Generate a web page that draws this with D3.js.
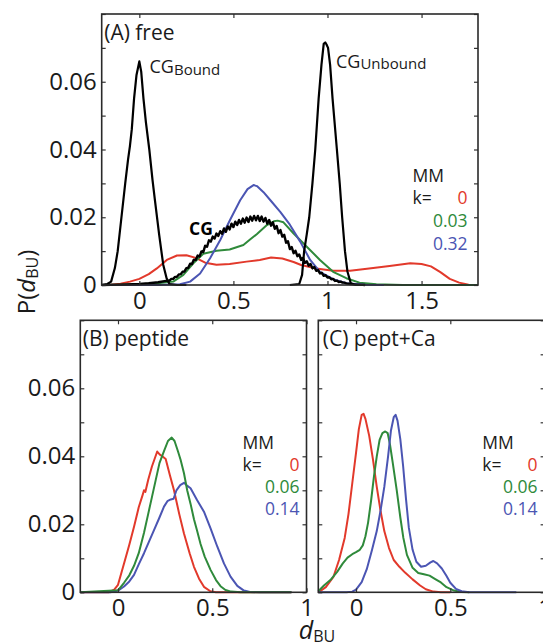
<!DOCTYPE html>
<html><head><meta charset="utf-8">
<script src="https://cdn.jsdelivr.net/npm/d3@7"></script>
<style>
body{margin:0;background:#fff}
svg{display:block}
text{font-family:"Open Sans",sans-serif;fill:#1a1a1a}
</style>
</head><body>
<svg id="chart" width="543" height="643"></svg>
<script>
// ---------- DATA ----------
const xTicksA = [0, 0.5, 1, 1.5];
const xTicksBC = [0, 0.5, 1];
const yTicks = [0, 0.01, 0.02, 0.03, 0.04, 0.05, 0.06, 0.07, 0.08];
const yTickLabels = [0, 0.02, 0.04, 0.06];
const panelTitles = ["(A) free", "(B) peptide", "(C) pept+Ca"];
const legendA = ["0", "0.03", "0.32"];
const legendBC = ["0", "0.06", "0.14"];
const seriesColors = ["#e2392b", "#2f8a3b", "#4b55b3"];

// Panel A (free)
const cgBoundX = [-0.2,-0.17,-0.15,-0.13,-0.115,-0.095,-0.075,-0.06,-0.05,-0.04,-0.028,-0.015,0,0.01,0.022,0.035,0.053,0.07,0.083,0.105,0.127,0.145,0.16,0.2,0.25];
const cgBoundY = [0,0.0003,0.001,0.005,0.010,0.020,0.030,0.037,0.041,0.046,0.055,0.062,0.066,0.063,0.055,0.048,0.040,0.031,0.025,0.015,0.006,0.002,0.0003,0,0];
const cgUnboundX = [0.8,0.85,0.865,0.876,0.89,0.903,0.92,0.935,0.953,0.968,0.98,0.988,0.995,1.003,1.014,1.027,1.05,1.065,1.078,1.093,1.106,1.124,1.15,1.2];
const cgUnboundY = [0,0.0003,0.003,0.010,0.015,0.020,0.030,0.040,0.055,0.065,0.0712,0.0716,0.071,0.070,0.065,0.055,0.040,0.030,0.020,0.010,0.004,0.0005,0,0];
const cgX = [-0.2,-0.1,0,0.05,0.1,0.15,0.16,0.17,0.18,0.19,0.20,0.21,0.22,0.23,0.24,0.25,0.26,0.27,0.28,0.29,0.30,0.31,0.32,0.33,0.34,0.35,0.36,0.37,0.38,0.39,0.40,0.41,0.42,0.43,0.44,0.45,0.46,0.47,0.48,0.49,0.50,0.51,0.52,0.53,0.54,0.55,0.56,0.57,0.58,0.59,0.60,0.61,0.62,0.63,0.64,0.65,0.66,0.67,0.68,0.69,0.70,0.71,0.72,0.73,0.74,0.75,0.76,0.77,0.78,0.79,0.80,0.81,0.82,0.83,0.84,0.85,0.86,0.87,0.88,0.89,0.90,0.91,0.92,0.93,0.94,0.95,0.96,0.97,0.98,0.99,1.00,1.01,1.02,1.03,1.04,1.05,1.06,1.07,1.08,1.09,1.10,1.12,1.14,1.17,1.2];
const cgY = [0,0.0001,0.0003,0.0005,0.0008,
  0.0013,0.0013,0.0018,0.0018,0.0024,0.0024,0.0031,0.0032,0.0039,0.0040,
  0.0050,0.0051,0.0063,0.0062,0.0075,0.0074,0.0087,0.0084,0.0099,0.0097,
  0.0116,0.0113,0.0132,0.0128,0.0143,0.0137,0.0152,0.0145,0.0159,0.0151,
  0.0167,0.0157,0.0173,0.0164,0.0181,0.0171,0.0187,0.0177,0.0192,0.0181,
  0.0196,0.0184,0.0199,0.0186,0.0202,0.0190,0.0204,0.0191,0.0204,0.0189,
  0.0202,0.0187,0.0198,0.0181,0.0192,0.0175,0.0185,0.0166,0.0174,0.0153,
  0.0162,0.0143,0.0148,0.0125,0.0129,0.0106,0.0112,0.0094,0.0101,0.0085,
  0.0090,0.0074,0.0080,0.0065,0.0070,0.0057,0.0062,0.0049,0.0053,0.0042,
  0.0044,0.0034,0.0036,0.0027,0.0029,0.0022,0.0023,0.0017,0.0018,0.0012,
  0.0013,0.0009,0.0010,0.0007,0.0007,0.0005,0.0003,0.0002,0.0001,0];
const freeK0X = [-0.2,-0.15,-0.1,-0.05,0,0.05,0.093,0.146,0.2,0.25,0.3,0.35,0.41,0.48,0.57,0.64,0.7,0.76,0.82,0.86,0.94,1.03,1.12,1.21,1.33,1.44,1.5,1.55,1.6,1.65,1.7,1.75,1.8];
const freeK0Y = [0,0.0001,0.0004,0.001,0.0018,0.0032,0.0049,0.0074,0.0087,0.0088,0.008,0.0066,0.006,0.0062,0.0069,0.0074,0.0081,0.0078,0.0068,0.0059,0.0049,0.0042,0.0042,0.0048,0.0056,0.0064,0.0062,0.0055,0.0038,0.0018,0.0007,0.0001,0];
const freeK003X = [-0.2,-0.1,0,0.1,0.18,0.234,0.287,0.34,0.41,0.48,0.553,0.59,0.624,0.678,0.715,0.735,0.766,0.82,0.89,0.96,1.03,1.1,1.17,1.26,1.4,1.8];
const freeK003Y = [0,0.0001,0.0002,0.0005,0.001,0.003,0.0064,0.0092,0.0101,0.0105,0.0118,0.0135,0.015,0.0177,0.0188,0.019,0.0185,0.0152,0.0113,0.0074,0.0039,0.002,0.0007,0.0002,0,0];
const freeK032X = [-0.2,0.1,0.216,0.27,0.323,0.376,0.43,0.482,0.536,0.575,0.607,0.625,0.66,0.7,0.75,0.8,0.855,0.908,0.96,1.03,1.1,1.2,1.3];
const freeK032Y = [0,0,0.0002,0.001,0.0034,0.0079,0.0133,0.0192,0.025,0.0283,0.0295,0.0292,0.0274,0.0248,0.0215,0.0178,0.0128,0.0074,0.0039,0.0017,0.0005,0.0001,0];

// Panel B (peptide)
const peptK0X = [-0.2,-0.05,-0.02,0,0.032,0.06,0.085,0.11,0.13,0.138,0.145,0.16,0.18,0.208,0.222,0.235,0.253,0.275,0.297,0.325,0.35,0.38,0.403,0.43,0.456,0.49,0.52,0.92];
const peptK0Y = [0,0,0.0008,0.0022,0.0085,0.014,0.0193,0.025,0.0285,0.030,0.0295,0.033,0.037,0.0414,0.0405,0.0400,0.0392,0.0345,0.030,0.023,0.0173,0.0115,0.0075,0.004,0.0016,0.0003,0,0];
const peptK006X = [-0.2,0,0.032,0.06,0.085,0.11,0.138,0.16,0.18,0.2,0.22,0.244,0.265,0.285,0.3,0.318,0.332,0.35,0.367,0.385,0.403,0.42,0.438,0.46,0.491,0.52,0.544,0.57,0.6,0.65,0.92];
const peptK006Y = [0,0.0006,0.0028,0.005,0.0078,0.0115,0.0175,0.023,0.028,0.033,0.038,0.0415,0.0445,0.0455,0.0445,0.0415,0.039,0.035,0.030,0.026,0.0215,0.018,0.0142,0.0105,0.0066,0.0036,0.0018,0.0007,0.0002,0,0];
const peptK014X = [-0.2,-0.04,0,0.032,0.06,0.085,0.11,0.138,0.165,0.191,0.22,0.244,0.262,0.28,0.295,0.31,0.33,0.35,0.368,0.385,0.42,0.456,0.491,0.527,0.562,0.597,0.633,0.668,0.7,0.75,0.92];
const peptK014Y = [0,0,0.0005,0.0017,0.0032,0.0051,0.0082,0.0115,0.015,0.0183,0.022,0.0252,0.0268,0.0273,0.0275,0.030,0.0315,0.0322,0.0313,0.0306,0.0271,0.0237,0.0188,0.0134,0.0085,0.0046,0.0019,0.0005,0.0001,0,0];

// Panel C (pept+Ca)
const caK0X = [-0.2,-0.16,-0.12,-0.09,-0.06,-0.04,-0.02,0,0.015,0.03,0.04,0.05,0.07,0.09,0.11,0.13,0.15,0.175,0.2,0.23,0.26,0.3,0.34,0.37,0.41,0.45,0.5];
const caK0Y = [0,0.0015,0.0045,0.0095,0.016,0.023,0.032,0.041,0.048,0.0522,0.0525,0.051,0.046,0.039,0.031,0.024,0.018,0.013,0.0095,0.0075,0.0058,0.0038,0.002,0.0009,0.0002,0,0];
const caK006X = [-0.2,-0.17,-0.136,-0.1,-0.07,-0.045,-0.02,0,0.02,0.036,0.05,0.064,0.08,0.095,0.11,0.125,0.14,0.155,0.168,0.18,0.195,0.216,0.235,0.251,0.27,0.3,0.33,0.36,0.39,0.42,0.45,0.48,0.52,0.56,0.6];
const caK006Y = [0.0003,0.002,0.0036,0.006,0.0085,0.0102,0.0112,0.0118,0.0125,0.0138,0.0165,0.0205,0.027,0.034,0.040,0.0448,0.0468,0.0473,0.0468,0.0435,0.038,0.030,0.022,0.016,0.011,0.0072,0.0057,0.0053,0.0049,0.0039,0.0029,0.0015,0.0005,0.0001,0];
const caK014X = [-0.2,-0.05,-0.02,0,0.03,0.057,0.085,0.11,0.13,0.15,0.17,0.185,0.2,0.21,0.22,0.235,0.25,0.265,0.28,0.3,0.32,0.345,0.37,0.395,0.41,0.43,0.455,0.48,0.5,0.53,0.56,0.6,0.85];
const caK014Y = [0,0,0.0002,0.0008,0.003,0.0068,0.0125,0.018,0.024,0.031,0.040,0.0475,0.0515,0.0522,0.0505,0.045,0.037,0.0275,0.019,0.0125,0.009,0.0075,0.0078,0.0088,0.0092,0.0085,0.007,0.0048,0.0028,0.001,0.0003,0,0];

// ---------- DRAW ----------
const svg = d3.select("#chart");
const zip = (xs, ys) => xs.map((v, i) => [v, ys[i]]);
const fmt = d3.format("~g");

function panel(cfg) {
  const x = d3.scaleLinear().domain(cfg.xDomain).range([cfg.left, cfg.right]);
  const y = d3.scaleLinear().domain([0, 0.08]).range([cfg.bottom, cfg.top]);
  const g = svg.append("g");
  const line = d3.line().x(d => x(d[0])).y(d => y(d[1]));

  // curves
  cfg.series.forEach(s => {
    g.append("path").attr("d", line(zip(s.x, s.y)))
      .attr("fill", "none").attr("stroke", s.color)
      .attr("stroke-width", s.w || 2).attr("stroke-linejoin", "round");
  });

  // axes
  const style = sel => {
    sel.select(".domain").remove();
    sel.selectAll(".tick line").attr("stroke", "#333").attr("stroke-width", 1.2);
    sel.selectAll(".tick text").attr("font-size", 24).attr("fill", "#111")
      .style("font-family", '"Open Sans",sans-serif');
  };
  g.append("g").attr("transform", `translate(0,${cfg.bottom})`)
    .call(d3.axisBottom(x).tickValues(cfg.xTicks).tickSize(-4).tickPadding(7).tickFormat(fmt))
    .call(style);
  g.append("g").attr("transform", `translate(0,${cfg.top})`)
    .call(d3.axisTop(x).tickValues(cfg.xTicks).tickSize(-4).tickFormat(""))
    .call(style);
  g.append("g").attr("transform", `translate(${cfg.left},0)`)
    .call(d3.axisLeft(y).tickValues(yTicks).tickSize(-4).tickPadding(5)
      .tickFormat(d => (cfg.yLabels && yTickLabels.some(v => Math.abs(v - d) < 1e-9)) ? fmt(d) : ""))
    .call(style);
  g.append("g").attr("transform", `translate(${cfg.right},0)`)
    .call(d3.axisRight(y).tickValues(yTicks).tickSize(-4).tickFormat(""))
    .call(style);

  // frame
  g.append("rect").attr("x", cfg.left).attr("y", cfg.top)
    .attr("width", cfg.right - cfg.left).attr("height", cfg.bottom - cfg.top)
    .attr("fill", "none").attr("stroke", "#2a2a2a").attr("stroke-width", 1.6);

  // title
  g.append("text").attr("x", cfg.left + cfg.titleDx).attr("y", cfg.top + 26)
    .attr("font-size", 21).text(cfg.title);

  // legend
  const L = cfg.legend;
  g.append("text").attr("x", L.x).attr("y", L.y).attr("font-size", 17.5).text("MM");
  g.append("text").attr("x", L.x).attr("y", L.y + L.dy).attr("font-size", 17.5).text("k=");
  L.values.forEach((v, i) => {
    g.append("text").attr("x", L.right).attr("y", L.y + L.dy * (i + 1))
      .attr("text-anchor", "end").attr("font-size", 17.5)
      .style("fill", seriesColors[i]).text(v);
  });
  return { g, x, y };
}

// Panel A
const A = panel({
  xDomain: [-0.2, 1.8], left: 101.7, right: 478, top: 14, bottom: 285,
  xTicks: xTicksA, yLabels: true, title: panelTitles[0], titleDx: 2.5,
  legend: { x: 412.5, y: 181.5, dy: 22.7, right: 467.5, values: legendA },
  series: [
    { x: freeK0X, y: freeK0Y, color: seriesColors[0] },
    { x: freeK003X, y: freeK003Y, color: seriesColors[1] },
    { x: freeK032X, y: freeK032Y, color: seriesColors[2] },
    { x: cgX, y: cgY, color: "#000", w: 2.4 },
    { x: cgBoundX, y: cgBoundY, color: "#000", w: 2.2 },
    { x: cgUnboundX, y: cgUnboundY, color: "#000", w: 2.2 }
  ]
});
// CG annotations
const tB = A.g.append("text").attr("x", 149.5).attr("y", 72.5).attr("font-size", 18);
tB.append("tspan").text("CG");
tB.append("tspan").attr("font-size", 15).attr("dy", 2).text("Bound");
const tU = A.g.append("text").attr("x", 336).attr("y", 68).attr("font-size", 18);
tU.append("tspan").text("CG");
tU.append("tspan").attr("font-size", 15).attr("dy", 1).text("Unbound");
A.g.append("text").attr("x", 189).attr("y", 235).attr("font-size", 17.5)
  .attr("font-weight", "bold").style("fill", "#000").text("CG");

// Panel B
panel({
  xDomain: [-0.2, 1], left: 80.3, right: 306.5, top: 320.3, bottom: 592.3,
  xTicks: xTicksBC, yLabels: true, title: panelTitles[1], titleDx: 2.5,
  legend: { x: 242.5, y: 448.5, dy: 22.3, right: 299.5, values: legendBC },
  series: [
    { x: peptK0X, y: peptK0Y, color: seriesColors[0] },
    { x: peptK014X, y: peptK014Y, color: seriesColors[2] },
    { x: peptK006X, y: peptK006Y, color: seriesColors[1] }
  ]
});

// Panel C
panel({
  xDomain: [-0.2, 1], left: 318.3, right: 544.6, top: 320.3, bottom: 592.3,
  xTicks: xTicksBC, yLabels: false, title: panelTitles[2], titleDx: 4.5,
  legend: { x: 482.3, y: 448.5, dy: 22.3, right: 537.5, values: legendBC },
  series: [
    { x: caK0X, y: caK0Y, color: seriesColors[0] },
    { x: caK006X, y: caK006Y, color: seriesColors[1] },
    { x: caK014X, y: caK014Y, color: seriesColors[2] }
  ]
});

// shared axis labels
const yl = svg.append("text").attr("transform", "translate(35,282) rotate(-90)")
  .attr("text-anchor", "middle").attr("font-size", 24);
yl.append("tspan").text("P(");
yl.append("tspan").attr("font-style", "italic").text("d");
yl.append("tspan").attr("font-size", 16).attr("dy", 3).text("BU");
yl.append("tspan").attr("dy", -3).text(")");

const xl = svg.append("text").attr("x", 317).attr("y", 639)
  .attr("text-anchor", "middle").attr("font-size", 25);
xl.append("tspan").attr("font-style", "italic").text("d");
xl.append("tspan").attr("font-size", 16).attr("dy", 3).text("BU");
</script>
</body></html>
